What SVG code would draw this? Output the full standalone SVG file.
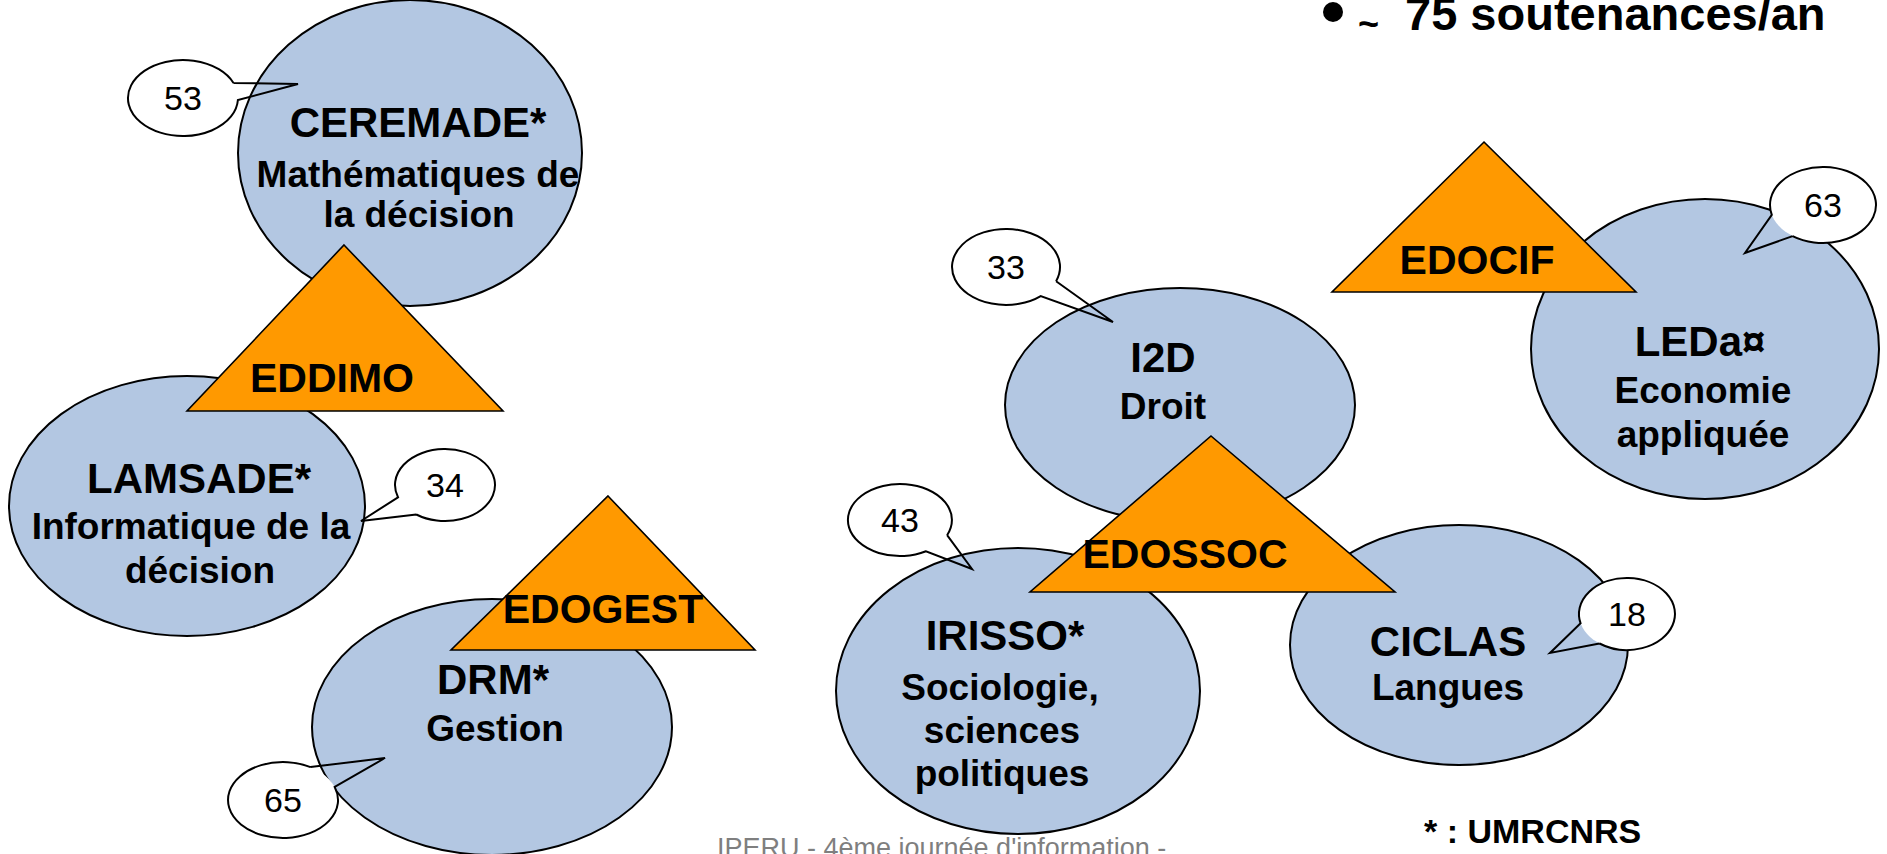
<svg xmlns="http://www.w3.org/2000/svg" width="1887" height="854" viewBox="0 0 1887 854">
<style>
.node{fill:#B3C7E2;stroke:#000;stroke-width:2}
.tri{fill:#FF9900;stroke:#000;stroke-width:1.6;stroke-linejoin:miter}
.cfill{fill:#fff;stroke:none}
.cline{fill:none;stroke:#000;stroke-width:2;stroke-linejoin:miter}
.t{font-family:"Liberation Sans",Arial,sans-serif;font-weight:bold;text-anchor:middle;fill:#000}
.h{font-size:42px}
.s{font-size:37px}
.tt{font-size:41px}
.num{font-family:"Liberation Sans",Arial,sans-serif;font-size:34px;text-anchor:middle;fill:#000}
</style>
<rect width="1887" height="854" fill="#fff"/>

<!-- ellipse nodes -->
<g id="ceremade">
<ellipse class="node" cx="410" cy="153" rx="172" ry="153"/>
<text class="t h" x="418" y="137">CEREMADE*</text>
<text class="t s" x="418" y="187">Mathématiques de</text>
<text class="t s" x="419" y="227">la décision</text>
</g>
<g id="lamsade">
<ellipse class="node" cx="187" cy="506" rx="178" ry="130"/>
<text class="t h" x="199" y="493">LAMSADE*</text>
<text class="t s" x="191" y="539">Informatique de la</text>
<text class="t s" x="200" y="583">décision</text>
</g>
<g id="drm">
<ellipse class="node" cx="492" cy="727" rx="180" ry="128"/>
<text class="t h" x="493" y="694">DRM*</text>
<text class="t s" x="495" y="741">Gestion</text>
</g>
<g id="i2d">
<ellipse class="node" cx="1180" cy="405" rx="175" ry="117"/>
<text class="t h" x="1163" y="372">I2D</text>
<text class="t s" x="1163" y="419">Droit</text>
</g>
<g id="irisso">
<ellipse class="node" cx="1018" cy="691" rx="182" ry="143"/>
<text class="t h" x="1005" y="650">IRISSO*</text>
<text class="t s" x="1000" y="700">Sociologie,</text>
<text class="t s" x="1002" y="743">sciences</text>
<text class="t s" x="1002" y="786">politiques</text>
</g>
<g id="ciclas">
<ellipse class="node" cx="1459" cy="645" rx="169" ry="120"/>
<text class="t h" x="1448" y="656">CICLAS</text>
<text class="t s" x="1448" y="700">Langues</text>
</g>
<g id="leda">
<ellipse class="node" cx="1705" cy="349" rx="174" ry="150"/>
<text class="t h" x="1700" y="356">LEDa¤</text>
<text class="t s" x="1703" y="403">Economie</text>
<text class="t s" x="1703" y="447">appliquée</text>
</g>

<!-- doctoral school triangles -->
<g id="eddimo">
<polygon class="tri" points="344,245 503,411 187,411"/>
<text class="t tt" x="332" y="392">EDDIMO</text>
</g>
<g id="edogest">
<polygon class="tri" points="608,496 755,650 451,650"/>
<text class="t tt" x="603" y="623">EDOGEST</text>
</g>
<g id="edocif">
<polygon class="tri" points="1484,142 1636,292 1332,292"/>
<text class="t tt" x="1477" y="274">EDOCIF</text>
</g>
<g id="edossoc">
<polygon class="tri" points="1211,436 1395,592 1030,592"/>
<text class="t tt" x="1185" y="568">EDOSSOC</text>
</g>

<!-- callouts -->
<g id="callout-53">
<ellipse class="cfill" cx="183" cy="98" rx="55" ry="38"/>
<path class="cline" d="M233.5,83 L298,84 L237.9,100 A55,38 0 1 1 233.5,83"/>
<text class="num" x="183" y="110">53</text>
</g>
<g id="callout-34">
<ellipse class="cfill" cx="445" cy="485" rx="50" ry="36"/>
<path class="cline" d="M416.3,514.5 L361,521 L398,497.3 A50,36 0 1 1 416.3,514.5"/>
<text class="num" x="445" y="497">34</text>
</g>
<g id="callout-65">
<ellipse class="cfill" cx="283" cy="800" rx="55" ry="38"/>
<path class="cline" d="M310.5,767.1 L385,758 L334.7,787 A55,38 0 1 1 310.5,767.1"/>
<text class="num" x="283" y="812">65</text>
</g>
<g id="callout-33">
<ellipse class="cfill" cx="1006" cy="267" rx="54" ry="38"/>
<path class="cline" d="M1056.1,281.2 L1113,322 L1040.7,296.1 A54,38 0 1 1 1056.1,281.2"/>
<text class="num" x="1006" y="279">33</text>
</g>
<g id="callout-43">
<ellipse class="cfill" cx="900" cy="520" rx="52" ry="36"/>
<path class="cline" d="M947.1,535.2 L972,569 L926,551.2 A52,36 0 1 1 947.1,535.2"/>
<text class="num" x="900" y="532">43</text>
</g>
<g id="callout-63">
<ellipse class="cfill" cx="1823" cy="205" rx="53" ry="38"/>
<path class="cline" d="M1792.6,236.1 L1745,253 L1771.8,214.8 A53,38 0 1 1 1792.6,236.1"/>
<text class="num" x="1823" y="217">63</text>
</g>
<g id="callout-18">
<ellipse class="cfill" cx="1627" cy="614" rx="48" ry="36"/>
<path class="cline" d="M1599.5,643.5 L1550,653 L1580.6,623.3 A48,36 0 1 1 1599.5,643.5"/>
<text class="num" x="1627" y="626">18</text>
</g>

<g id="connectors"></g>

<!-- free texts -->
<g id="header">
<circle cx="1333" cy="12" r="10" fill="#000"/>
<text x="1358" y="36" font-family="Liberation Sans, Arial, sans-serif" font-weight="bold" font-size="36">~</text>
<text x="1405" y="30" font-family="Liberation Sans, Arial, sans-serif" font-weight="bold" font-size="47">75 soutenances/an</text>
</g>
<g id="legend">
<text x="1424" y="843" font-family="Liberation Sans, Arial, sans-serif" font-weight="bold" font-size="34">* : UMRCNRS</text>
</g>
<g id="footer">
<text x="717" y="857" font-family="Liberation Sans, Arial, sans-serif" font-size="27" fill="#7f7f7f">IPERU - 4ème journée d'information -</text>
</g>
</svg>
